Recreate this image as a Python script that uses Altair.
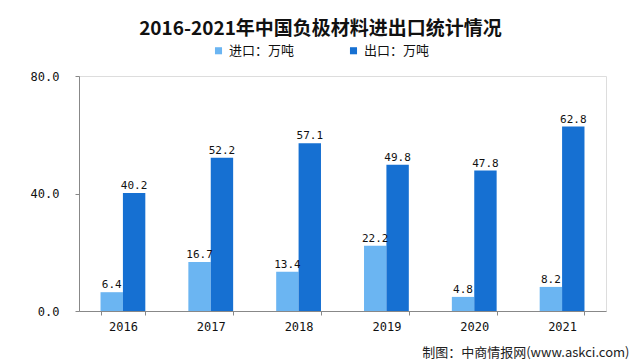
import altair as alt
import pandas as pd

years = ["2016", "2017", "2018", "2019", "2020", "2021"]
imports = [6.4, 16.7, 13.4, 22.2, 4.8, 8.2]
exports = [40.2, 52.2, 57.1, 49.8, 47.8, 62.8]
series = ["进口：万吨", "出口：万吨"]
colors = ["#6BB5F2", "#1670D2"]

rows = []
for y, a, b in zip(years, imports, exports):
    rows.append({"year": y, "series": series[0], "value": a})
    rows.append({"year": y, "series": series[1], "value": b})
df = pd.DataFrame(rows)

mono = "DejaVu Sans Mono"
cjk = "Noto Sans CJK SC"

x = alt.X("year:N", sort=years,
          scale=alt.Scale(paddingInner=0.49, paddingOuter=0.245),
          axis=alt.Axis(title="制图：中商情报网(www.askci.com)", labelAngle=0,
                        labelFont=mono, labelFontSize=12, labelColor="#111",
                        labelPadding=6, tickBand="extent", tickSize=4,
                        domainColor="#888", tickColor="#888",
                        titleFont=cjk, titleFontSize=13, titleFontWeight="normal",
                        titleColor="#222", titleAnchor="end", titleAlign="right",
                        titleBaseline="middle", titleX=550, titleY=41))
xo = alt.XOffset("series:N", sort=series,
                 scale=alt.Scale(paddingInner=0, paddingOuter=0))
y = alt.Y("value:Q", scale=alt.Scale(domain=[0, 80]),
          axis=alt.Axis(title=None, values=[0, 40, 80], format=".1f", grid=False,
                        labelFont=mono, labelFontSize=12, labelColor="#111",
                        labelPadding=16, tickSize=4,
                        domainColor="#888", tickColor="#888"))

bars = alt.Chart(df).mark_bar().encode(
    x=x, xOffset=xo, y=y,
    color=alt.Color("series:N", sort=series,
                    scale=alt.Scale(domain=series, range=colors),
                    legend=alt.Legend(title=None, orient="none", direction="horizontal",
                                      legendX=133, legendY=-32, symbolType="square",
                                      symbolSize=50, labelFont=cjk, labelFontSize=13,
                                      labelColor="#111", columnPadding=52,
                                      symbolStrokeWidth=0)),
)
labels = alt.Chart(df).mark_text(dy=-7, font=mono, fontSize=11, color="#111").encode(
    x=x, xOffset=xo, y=y, text=alt.Text("value:Q", format=".1f"),
)

chart = alt.layer(bars, labels).properties(
    width=527, height=235,
    title=alt.TitleParams("2016-2021年中国负极材料进出口统计情况", font=cjk,
                          fontSize=19, fontWeight="bold", color="#111",
                          anchor="middle", dx=-22, offset=5),
    autosize=alt.AutoSizeParams(type="none"),
    padding={"left": 71, "top": 68, "right": 26, "bottom": 51},
).configure_view(stroke=None).configure(background="white")

chart.save("out.html", embed_options={"renderer": "svg", "actions": False})
